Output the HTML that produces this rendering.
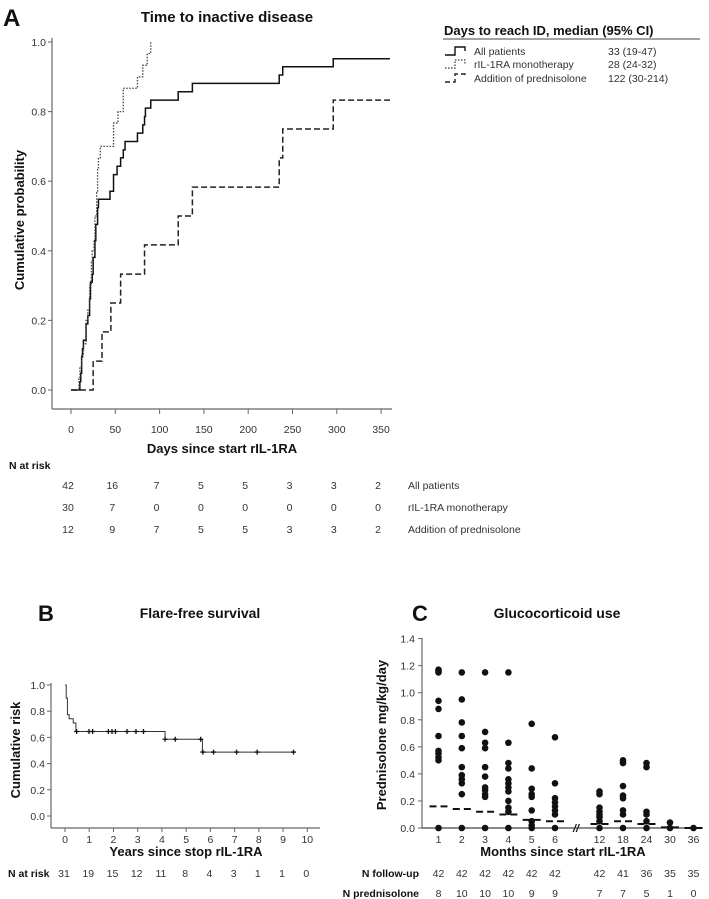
<!DOCTYPE html>
<html><head><meta charset="utf-8"><style>
body{margin:0;background:#fff}
svg{display:block;font-family:"Liberation Sans",Arial,sans-serif}
.t{font-size:10.5px;fill:#333}
.b{font-weight:bold;fill:#111}
</style></head><body>
<svg id="s" width="709" height="899" viewBox="0 0 709 899">
<text x="3" y="26" font-size="24" class="b">A</text>
<text x="227" y="22" font-size="15" class="b" text-anchor="middle">Time to inactive disease</text>
<text transform="translate(24,220) rotate(-90)" font-size="13" class="b" text-anchor="middle">Cumulative probability</text>
<text x="222" y="453" font-size="13" class="b" text-anchor="middle">Days since start rIL-1RA</text>
<g>
<text x="444" y="35" font-size="13" class="b">Days to reach ID, median (95% CI)</text>
<line x1="443" y1="39" x2="700" y2="39" stroke="#444" stroke-width="1"/>
<path d="M445 55 H455 V47 H465 V51" fill="none" stroke="#111" stroke-width="1.4"/>
<path d="M445 68 H455 V60 H465 V64" fill="none" stroke="#333" stroke-width="1.2" stroke-dasharray="1.5,1.5"/>
<path d="M445 82 H455 V74 H465 V78" fill="none" stroke="#222" stroke-width="1.4" stroke-dasharray="5,3"/>
<text x="474" y="55" class="t" font-size="12">All patients</text>
<text x="474" y="68" class="t" font-size="12">rIL-1RA monotherapy</text>
<text x="474" y="82" class="t" font-size="12">Addition of prednisolone</text>
<text x="608" y="55" class="t" font-size="12">33 (19-47)</text>
<text x="608" y="68" class="t" font-size="12">28 (24-32)</text>
<text x="608" y="82" class="t" font-size="12">122 (30-214)</text>
</g>
<text x="9" y="469" font-size="10.5" class="b">N at risk</text>
<text x="38" y="621" font-size="22" class="b">B</text>
<text x="200" y="618" font-size="14" class="b" text-anchor="middle">Flare-free survival</text>
<text transform="translate(20,750) rotate(-90)" font-size="13" class="b" text-anchor="middle">Cumulative risk</text>
<text x="186" y="856" font-size="13" class="b" text-anchor="middle">Years since stop rIL-1RA</text>
<text x="8" y="877" font-size="10.5" class="b">N at risk</text>
<text x="412" y="621" font-size="22" class="b">C</text>
<text x="557" y="618" font-size="14" class="b" text-anchor="middle">Glucocorticoid use</text>
<text transform="translate(386,735) rotate(-90)" font-size="13" class="b" text-anchor="middle">Prednisolone mg/kg/day</text>
<text x="563" y="856" font-size="13" class="b" text-anchor="middle">Months since start rIL-1RA</text>
<text x="419" y="877" font-size="10.5" class="b" text-anchor="end">N follow-up</text>
<text x="419" y="897" font-size="10.5" class="b" text-anchor="end">N prednisolone</text>
<text x="576" y="832" font-size="11" font-style="italic" class="b" text-anchor="middle">//</text>
</svg>
<script>
const aAllT=[0,10,11,12,13,14,17,19,21,22,24,25,27,28,30,31,44,48,52,56,59,61,75,81,83,84,90,121,137,235,239,296];
const aAllV=[0,0.024,0.048,0.095,0.119,0.143,0.190,0.214,0.262,0.310,0.333,0.381,0.429,0.476,0.524,0.548,0.571,0.619,0.643,0.667,0.690,0.714,0.738,0.762,0.786,0.810,0.833,0.857,0.881,0.905,0.929,0.952];
const aMonoT=[0,9,10,12,14,17,19,21,23,24,26,27,29,30,31,33,48,53,59,75,81,86,90];
const aMonoV=[0,0.033,0.067,0.1,0.133,0.2,0.233,0.3,0.367,0.4,0.433,0.5,0.567,0.633,0.667,0.7,0.767,0.8,0.867,0.9,0.933,0.967,1.0];
const aPredT=[0,25,35,45,56,83,121,137,235,239,296];
const aPredV=[0,0.083,0.167,0.25,0.333,0.417,0.5,0.583,0.667,0.75,0.833];
const aXTicks=[0,50,100,150,200,250,300,350];
const aYTicks=[0,0.2,0.4,0.6,0.8,1.0];
const riskAll=[42,16,7,5,5,3,3,2];
const riskMono=[30,7,0,0,0,0,0,0];
const riskPred=[12,9,7,5,5,3,3,2];
const riskNames=["All patients","rIL-1RA monotherapy","Addition of prednisolone"];
const bT=[0,0.05,0.1,0.17,0.34,0.45,4.13,5.67,9.43];
const bV=[1.0,0.9,0.774,0.742,0.71,0.645,0.586,0.488,0.488];
const bCens=[0.48,0.99,1.14,1.79,1.94,2.08,2.56,2.93,3.24,4.13,4.55,5.6,5.69,6.13,7.08,7.93,9.43];
const bXTicks=[0,1,2,3,4,5,6,7,8,9,10];
const bYTicks=[0,0.2,0.4,0.6,0.8,1.0];
const bRisk=[31,19,15,12,11,8,4,3,1,1,0];
const cCats=["1","2","3","4","5","6","12","18","24","30","36"];
const cDots=[
[1.17,1.16,1.15,0.94,0.88,0.68,0.57,0.55,0.52,0.50,0],
[1.15,0.95,0.78,0.68,0.59,0.45,0.39,0.36,0.33,0.25,0],
[1.15,0.71,0.63,0.59,0.45,0.38,0.30,0.28,0.25,0.23,0],
[1.15,0.63,0.48,0.44,0.36,0.33,0.30,0.27,0.20,0.15,0.12,0],
[0.77,0.44,0.29,0.25,0.23,0.13,0.05,0.02,0],
[0.67,0.33,0.22,0.19,0.16,0.13,0.10,0],
[0.27,0.25,0.15,0.12,0.10,0.08,0.05,0],
[0.50,0.48,0.31,0.24,0.22,0.13,0.10,0],
[0.48,0.45,0.12,0.10,0.05,0],
[0.04,0],
[0]];
const cMedian=[0.16,0.14,0.12,0.10,0.06,0.05,0.03,0.05,0.03,0.005,0.0];
const cYTicks=[0,0.2,0.4,0.6,0.8,1.0,1.2,1.4];
const cFollow=[42,42,42,42,42,42,42,41,36,35,35];
const cPred=[8,10,10,10,9,9,7,7,5,1,0];

const NS="http://www.w3.org/2000/svg";
const svg=document.getElementById('s');
function mk(tag,attrs,parent){const e=document.createElementNS(NS,tag);for(const k in attrs)e.setAttribute(k,attrs[k]);(parent||svg).appendChild(e);return e;}
function txt(x,y,s,anchor,size,parent){const e=mk('text',{x:x,y:y,'text-anchor':anchor||'middle','font-size':size||10.5,fill:'#333'},parent);e.textContent=s;return e;}

const ax=d=>71+d*0.886;
const ay=v=>390-v*348;
const gA=mk('g',{});


mk('line',{x1:52,y1:38,x2:52,y2:409,stroke:'#666','stroke-width':1.2},gA);
mk('line',{x1:52,y1:409,x2:392,y2:409,stroke:'#666','stroke-width':1.2},gA);
aYTicks.forEach(v=>{mk('line',{x1:48,y1:ay(v),x2:52,y2:ay(v),stroke:'#666'},gA);const t=txt(46,ay(v)+4,v.toFixed(1),'end',10.5,gA);});
aXTicks.forEach(v=>{mk('line',{x1:ax(v),y1:409,x2:ax(v),y2:414,stroke:'#666'},gA);const t=txt(ax(v),433,String(v),'middle',10.5,gA);});
function stepPath(T,V,end,fx,fy){let d='M'+fx(T[0])+' '+fy(V[0]);for(let i=1;i<T.length;i++){d+=' H'+fx(T[i])+' V'+fy(V[i]);}d+=' H'+fx(end);return d;}
const pA1=mk('path',{d:stepPath(aAllT,aAllV,360,ax,ay),fill:'none',stroke:'#111','stroke-width':1.5},gA);


const pA2=mk('path',{d:stepPath(aMonoT,aMonoV,aMonoT[aMonoT.length-1],ax,ay),fill:'none',stroke:'#444','stroke-width':1.3,'stroke-dasharray':'1.5,1.5'},gA);


const pA3=mk('path',{d:stepPath(aPredT,aPredV,360,ax,ay),fill:'none',stroke:'#222','stroke-width':1.5,'stroke-dasharray':'6,3'},gA);


[riskAll,riskMono,riskPred].forEach((row,r)=>{const y=489+r*22;row.forEach((n,i)=>{const t=txt(ax(aXTicks[i])-3,y,String(n),'middle',10.5,gA);});const l=txt(408,y,riskNames[r],'start',10.5,gA);});

const bx=t=>65+t*24.23;
const by=v=>816-v*131;
const gB=mk('g',{});


mk('line',{x1:51,y1:683,x2:51,y2:828,stroke:'#666','stroke-width':1.2},gB);
mk('line',{x1:51,y1:828,x2:320,y2:828,stroke:'#666','stroke-width':1.2},gB);
bYTicks.forEach(v=>{mk('line',{x1:47,y1:by(v),x2:51,y2:by(v),stroke:'#666'},gB);const t=txt(45,by(v)+4,v.toFixed(1),'end',10.5,gB);});
bXTicks.forEach((v,i)=>{mk('line',{x1:bx(v),y1:828,x2:bx(v),y2:832,stroke:'#666'},gB);const t=txt(bx(v),843,String(v),'middle',10.5,gB);const r=txt(bx(v)-1,877,String(bRisk[i]),'middle',10.5,gB);});
let dB='M'+bx(bT[0])+' '+by(bV[0]);for(let i=1;i<bT.length;i++){dB+=' H'+bx(bT[i])+' V'+by(bV[i]);}
const pB=mk('path',{d:dB,fill:'none',stroke:'#333','stroke-width':1},gB);


function survAt(t){let v=bV[0];for(let i=0;i<bT.length;i++){if(bT[i]<=t)v=bV[i];}return v;}
bCens.forEach(t=>{const x=bx(t),y=by(survAt(t));const c=mk('path',{d:`M${x-2.5} ${y} H${x+2.5} M${x} ${y-2.5} V${y+2.5}`,stroke:'#111','stroke-width':1.3},gB);});

const cy=v=>828-v*135.3;
function cx(i){return i<6?438.5+i*23.3:599.5+(i-6)*23.5;}
const gC=mk('g',{});


mk('line',{x1:422,y1:638,x2:422,y2:828,stroke:'#666','stroke-width':1.2},gC);
mk('line',{x1:422,y1:828,x2:700,y2:828,stroke:'#444','stroke-width':1.3},gC);
cYTicks.forEach(v=>{mk('line',{x1:418,y1:cy(v),x2:422,y2:cy(v),stroke:'#666'},gC);const t=txt(415,cy(v)+4,v.toFixed(1),'end',10.5,gC);});
cCats.forEach((c,i)=>{const x=cx(i);const t=txt(x,843,c,'middle',10.5,gC);
const f=txt(x,877,String(cFollow[i]),'middle',10.5,gC);
const p=txt(x,897,String(cPred[i]),'middle',10.5,gC);
cDots[i].forEach(v=>{const d=mk('circle',{cx:x,cy:cy(v),r:3.3,fill:'#111'},gC);});
const m=mk('line',{x1:x-9,y1:cy(cMedian[i]),x2:x+9,y2:cy(cMedian[i]),stroke:'#111','stroke-width':2,'stroke-dasharray':'7,4'},gC);});
</script>
</body></html>
